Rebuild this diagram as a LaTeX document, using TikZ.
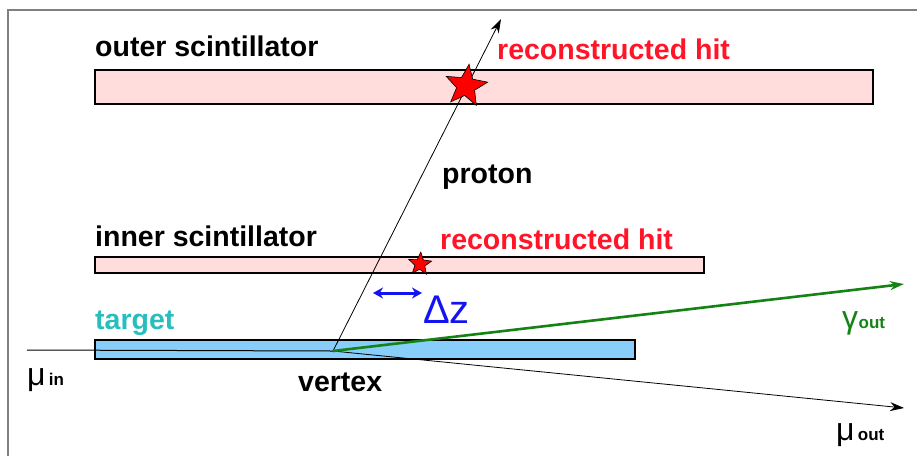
\documentclass[tikz,border=0pt]{standalone}
\usepackage{fontspec}
\setmainfont{Liberation Sans}
\usetikzlibrary{shapes.geometric,arrows.meta}
\definecolor{scint}{RGB}{255,221,221}
\definecolor{targ}{RGB}{135,206,250}
\definecolor{targtxt}{RGB}{40,190,190}
\definecolor{hitred}{RGB}{255,20,40}
\definecolor{gam}{RGB}{20,130,20}
\definecolor{dzblue}{RGB}{20,20,240}
\definecolor{frame}{RGB}{128,128,128}
\tikzset{
  slab/.style={draw=black, line width=1.6pt},
  lbl/.style={inner sep=0pt, anchor=base west, font=\fontsize{28.5}{28.5}\selectfont\bfseries},
  hitstar/.style={star, star points=5, star point ratio=2.3, fill=red, draw=black, line width=0.6pt, inner sep=0pt},
  track/.style={line width=0.8pt, -{Stealth[length=14pt,width=9pt]}},
}
\begin{document}
\begin{tikzpicture}[x=1pt,y=-1pt]
\useasboundingbox (0,0) rectangle (917,456);
\fill[white] (0,0) rectangle (917,456);
\draw[frame, line width=2pt] (8,456) -- (8,10) -- (917,10);
% slabs
\node[slab, fill=scint, minimum width=778pt, minimum height=34pt, inner sep=0pt, anchor=north west] (outer) at (94,69) {};
\node[slab, fill=scint, minimum width=609pt, minimum height=16pt, inner sep=0pt, anchor=north west] (inner) at (94,256) {};
\node[slab, fill=targ, minimum width=540pt, minimum height=19pt, inner sep=0pt, anchor=north west] (target) at (94,339) {};
% coordinates
\coordinate (vtx) at (333,351);
\coordinate (min) at (27,350);
\coordinate (ptip) at (501,19);
\coordinate (gtip) at (904,284);
\coordinate (mtip) at (904,408);
\coordinate (dzl) at (373,293);
\coordinate (dzr) at (422,293);
% tracks
\draw[line width=1pt] (min) -- (vtx);
\draw[track] (vtx) -- (ptip);
\draw[track] (vtx) -- (mtip);
\draw[track, gam, line width=2.6pt] (vtx) -- (gtip);
\draw[dzblue, line width=3pt, {Stealth[length=10pt,width=11pt]}-{Stealth[length=10pt,width=11pt]}] (dzl) -- (dzr);
% stars
\node[hitstar, minimum size=44pt, rotate=-8] (ohit) at (466,86) {};
\node[hitstar, minimum size=24pt, rotate=-4] (ihit) at (420,264) {};
% labels
\node[lbl] (lout) at (95,56) {outer scintillator};
\node[lbl, text=hitred] (lrh1) at (497,59) {reconstructed hit};
\node[lbl] (lprot) at (442,183) {proton};
\node[lbl] (lin) at (95,246) {inner scintillator};
\node[lbl, text=hitred] (lrh2) at (440,249) {reconstructed hit};
\node[lbl, text=targtxt] (ltarg) at (95,329) {target};
\node[lbl] (lvtx) at (298,391) {vertex};
\node[inner sep=0pt, anchor=base west, text=dzblue, font=\fontsize{40}{40}\selectfont] (ldz) at (423,323) {Δz};
\node[inner sep=0pt, anchor=base west, font=\fontsize{32}{32}\selectfont] (lmuin) at (27,385) {μ};
\node[inner sep=0pt, anchor=base west, font=\fontsize{17}{17}\selectfont\bfseries] (lin2) at (lmuin.base east) {\,in};
\node[inner sep=0pt, anchor=base west, text=gam, font=\fontsize{32}{32}\selectfont] (lgam) at (842,328) {γ};
\node[inner sep=0pt, anchor=base west, text=gam, font=\fontsize{17}{17}\selectfont\bfseries] (lgout) at (lgam.base east) {out};
\node[inner sep=0pt, anchor=base west, font=\fontsize{32}{32}\selectfont] (lmuout) at (836,440) {μ};
\node[inner sep=0pt, anchor=base west, font=\fontsize{17}{17}\selectfont\bfseries] (lmout) at (lmuout.base east) {\,out};
\end{tikzpicture}
\end{document}
